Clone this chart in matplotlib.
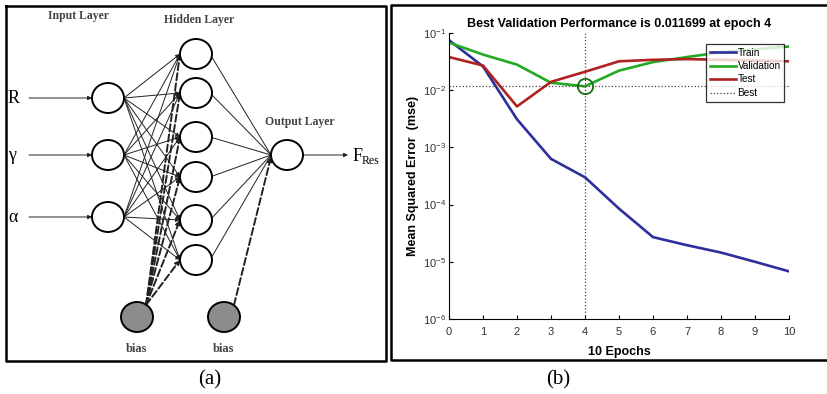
import numpy as np
import matplotlib
matplotlib.use("Agg")
import matplotlib.pyplot as plt
from matplotlib.patches import Ellipse

plt.rcParams['font.family'] = ['Liberation Sans', 'DejaVu Sans']
plt.rcParams['mathtext.fontset'] = 'custom'
plt.rcParams['mathtext.rm'] = 'Liberation Sans'

# performance data (b)
epochs = [0, 1, 2, 3, 4, 5, 6, 7, 8, 9, 10]
train_mse = [0.075, 0.026, 0.0031, 0.00063, 0.0003, 8.5e-5, 2.7e-5, 1.95e-5, 1.45e-5, 1.0e-5, 6.8e-6]
valid_mse = [0.068, 0.042, 0.028, 0.0135, 0.011699, 0.022, 0.031, 0.038, 0.046, 0.052, 0.058]
test_mse = [0.038, 0.027, 0.0052, 0.014, 0.021, 0.032, 0.034, 0.035, 0.034, 0.033, 0.032]
best_epoch = 4
best_value = 0.011699

# network layout (a), pixel positions
input_labels = ['R', 'γ', 'α']
input_y = [98, 155, 217]
hidden_y = [54, 93, 137, 177, 220, 260]
output_y = 155
x_in, x_hid, x_out = 108, 196, 287
bias_pos = [(137, 317), (224, 317)]
node_w, node_h = 32, 30

fig = plt.figure(figsize=(8.27, 3.94), dpi=100)
bg = fig.add_axes([0, 0, 1, 1])
bg.set_xlim(0, 827)
bg.set_ylim(394, 0)
bg.axis('off')

# panel frames
bg.plot([6, 386, 386, 6, 6], [6, 6, 361, 361, 6], color='black', lw=1.8)
bg.plot([827, 391, 391, 827], [5, 5, 360, 360], color='black', lw=1.8)

serif = ['Liberation Serif', 'DejaVu Serif']

def arrow(x0, y0, x1, y1, ls='-', lw=0.7):
    bg.annotate('', xy=(x1, y1), xytext=(x0, y0),
                arrowprops=dict(arrowstyle='-|>', lw=lw, ls=ls, color='#222222',
                                mutation_scale=6, shrinkA=0, shrinkB=0))

# input -> hidden
for yi in input_y:
    for yh in hidden_y:
        arrow(x_in + node_w / 2, yi, x_hid - node_w / 2, yh)
# hidden -> output
for yh in hidden_y:
    bg.plot([x_hid + node_w / 2 - 2, x_out - node_w / 2], [yh, output_y], color='#222222', lw=0.7)
# bias lines
for yh in hidden_y:
    arrow(bias_pos[0][0] + 9, bias_pos[0][1] - 12, x_hid - node_w / 2, yh, ls='--', lw=1.4)
arrow(bias_pos[1][0] + 10, bias_pos[1][1] - 12, x_out - node_w / 2, output_y + 2, ls='--', lw=1.4)

# input arrows and labels
for lab, yi in zip(input_labels, input_y):
    arrow(29, yi, x_in - node_w / 2, yi)
    bg.text(8, yi, lab, fontsize=13, family=serif, ha='left', va='center')
arrow(x_out + node_w / 2, output_y, 348, output_y)
bg.text(353, output_y + 1, 'F', fontsize=13, family=serif, ha='left', va='center')
bg.text(362, output_y + 6, 'Res', fontsize=8.5, family=serif, ha='left', va='center')

# nodes
for yi in input_y:
    bg.add_patch(Ellipse((x_in, yi), node_w, node_h, fc='white', ec='black', lw=1.4, zorder=3))
for yh in hidden_y:
    bg.add_patch(Ellipse((x_hid, yh), node_w, node_h, fc='white', ec='black', lw=1.4, zorder=3))
bg.add_patch(Ellipse((x_out, output_y), node_w, node_h, fc='white', ec='black', lw=1.4, zorder=3))
for bx, by in bias_pos:
    bg.add_patch(Ellipse((bx, by), node_w, node_h, fc='#8c8c8c', ec='black', lw=1.4, zorder=3))
    bg.text(bx, 349, 'bias', fontsize=9, family=serif, fontweight='bold', color='#444444',
            ha='center', va='center')

bg.text(79, 16, 'Input Layer', fontsize=8.5, family=serif, fontweight='bold', color='#444444',
        ha='center', va='center')
bg.text(199, 20, 'Hidden Layer', fontsize=8.5, family=serif, fontweight='bold', color='#444444',
        ha='center', va='center')
bg.text(300, 122, 'Output Layer', fontsize=8.5, family=serif, fontweight='bold', color='#444444',
        ha='center', va='center')

bg.text(210, 380, '(a)', fontsize=15, family=serif, ha='center', va='center')
bg.text(558, 380, '(b)', fontsize=15, family=serif, ha='center', va='center')

# performance plot
ax = fig.add_axes([449 / 827, 1 - 319 / 394, 340 / 827, 286 / 394])
ax.plot(epochs, train_mse, color='#2e2e9e', lw=1.9, label='Train')
ax.plot(epochs, valid_mse, color='#22aa22', lw=1.9, label='Validation')
ax.plot(epochs, test_mse, color='#b02222', lw=1.9, label='Test')
ax.axhline(best_value, color='#444444', lw=0.9, ls=':', label='Best')
ax.axvline(best_epoch, color='#444444', lw=0.9, ls=':')
ax.plot([best_epoch], [best_value], 'o', ms=11, mfc='none', mec='#1a6e1a', mew=1.3)
ax.set_yscale('log')
ax.set_xlim(0, 10)
ax.set_ylim(1e-6, 1e-1)
ax.set_xticks(epochs)
ax.minorticks_off()
ax.spines['top'].set_visible(False)
ax.spines['right'].set_visible(False)
ax.tick_params(direction='in', labelsize=8, labelcolor='#333333', length=3)
ax.tick_params(axis='x', pad=6)
ax.tick_params(axis='y', pad=2)
ax.set_title('Best Validation Performance is 0.011699 at epoch 4', fontsize=9,
             fontweight='bold', pad=4)
ax.set_xlabel('10 Epochs', fontsize=9, fontweight='bold', labelpad=6)
ax.set_ylabel('Mean Squared Error  (mse)', fontsize=9, fontweight='bold', labelpad=3)
leg = ax.legend(loc='upper left', bbox_to_anchor=(706 / 827, 1 - 44 / 394),
                bbox_transform=fig.transFigure, fontsize=7.2, frameon=True, fancybox=False,
                borderpad=0.35, labelspacing=0.35, handlelength=2.6, handletextpad=0.2,
                borderaxespad=0)
leg.get_frame().set_edgecolor('black')
leg.get_frame().set_linewidth(0.9)

fig.savefig('out.png', dpi=100)
